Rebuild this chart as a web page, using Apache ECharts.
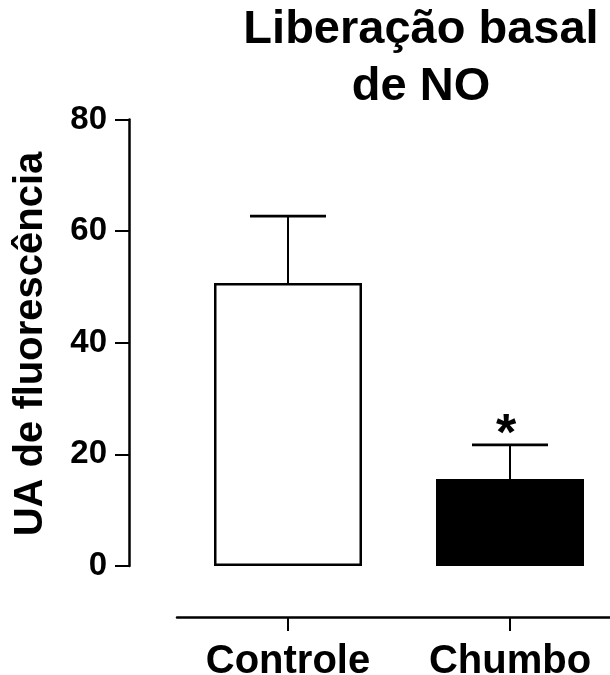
<!DOCTYPE html>
<html>
<head>
<meta charset="utf-8">
<script src="https://cdn.jsdelivr.net/npm/echarts@6/dist/echarts.min.js"></script>
<style>html,body{margin:0;padding:0;background:#fff}#c{width:610px;height:675px}</style>
</head>
<body>
<div id="c"></div>
<script>
var categories = ['Controle', 'Chumbo'];
var means = [50.7, 15.6];
var sems = [12.0, 6.1];
var marks = ['', '*'];
var barColors = ['#ffffff', '#000000'];
var yTicks = [0, 20, 40, 60, 80];
var titleText = 'Liberação basal\nde NO';
var yName = 'UA de fluorescência';

var FONT = 'Arial, "Liberation Sans", sans-serif';
var chart = echarts.init(document.getElementById('c'));

var errData = categories.map(function (c, i) { return [i, means[i], sems[i]]; });

chart.setOption({
  animation: false,
  backgroundColor: '#ffffff',
  title: {
    text: titleText,
    left: 416, top: -3, textAlign: 'center',
    textStyle: { fontFamily: FONT, fontWeight: 'bold', fontSize: 47, lineHeight: 57, color: '#000' }
  },
  grid: { left: 177, top: 119.5, width: 444, bottom: 109, containLabel: false, outerBoundsMode: 'none' },
  xAxis: {
    type: 'category',
    data: categories,
    offset: 51,
    axisLine: { onZero: false, lineStyle: { color: '#000', width: 2.5 } },
    axisTick: { show: true, alignWithLabel: true, length: 14, lineStyle: { color: '#000', width: 2 } },
    axisLabel: { margin: 25, color: '#000', fontFamily: FONT, fontWeight: 'bold', fontSize: 40 },
    splitLine: { show: false }
  },
  yAxis: {
    type: 'value',
    min: yTicks[0], max: yTicks[yTicks.length - 1], interval: 20,
    offset: 48,
    axisLine: { show: true, lineStyle: { color: '#000', width: 2.5 } },
    axisTick: { show: true, length: 14, lineStyle: { color: '#000', width: 2 } },
    axisLabel: { margin: 22, color: '#000', fontFamily: FONT, fontWeight: 'bold', fontSize: 33 },
    splitLine: { show: false }
  },
  graphic: [{
    type: 'text',
    x: 31, y: 344, rotation: Math.PI / 2,
    style: {
      text: yName, fill: '#000', font: 'bold 40px ' + FONT,
      textAlign: 'center', textVerticalAlign: 'middle'
    }
  }],
  series: [{
    type: 'bar',
    barWidth: 148,
    data: means.map(function (v, i) {
      return { value: v, itemStyle: { color: barColors[i], borderColor: '#000', borderWidth: 2.5 } };
    }),
    z: 2
  }, {
    type: 'custom',
    data: errData,
    z: 3,
    renderItem: function (params, api) {
      var i = api.value(0), m = api.value(1), e = api.value(2);
      var mark = marks[params.dataIndex];
      var base = api.coord([i, m]);
      var top = api.coord([i, m + e]);
      var half = 38;
      var children = [
        { type: 'line', shape: { x1: base[0], y1: base[1], x2: top[0], y2: top[1] }, style: { stroke: '#000', lineWidth: 2 } },
        { type: 'line', shape: { x1: top[0] - half, y1: top[1], x2: top[0] + half, y2: top[1] }, style: { stroke: '#000', lineWidth: 2.7 } }
      ];
      if (mark) {
        children.push({ type: 'text', x: top[0] - 4, y: top[1] + 17,
          style: { text: mark, fill: '#000', font: 'bold 52px ' + FONT, textAlign: 'center', textVerticalAlign: 'bottom' } });
      }
      return { type: 'group', children: children };
    }
  }]
});
</script>
</body>
</html>
